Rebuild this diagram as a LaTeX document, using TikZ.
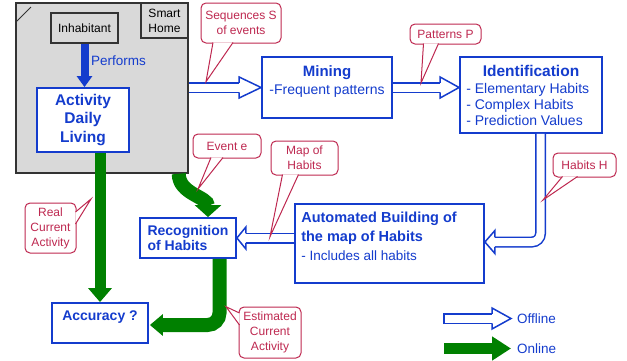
\documentclass[tikz,border=0pt]{standalone}
\usepackage{fontspec}
\setmainfont{Liberation Sans}
\usetikzlibrary{arrows.meta,positioning,calc}
\usepackage{xcolor}
\definecolor{habitblue}{RGB}{20,60,205}
\definecolor{onlinegreen}{RGB}{0,128,0}
\definecolor{notered}{RGB}{190,40,80}
\definecolor{homegray}{RGB}{217,217,217}

\newcommand{\setfs}[2]{\fontsize{#1}{#2}\selectfont}

\tikzset{
  procbox/.style={draw=habitblue, line width=1.8pt, fill=white, text=habitblue, inner sep=0pt},
  graybox/.style={draw=black!80, line width=1.5pt, fill=homegray, inner sep=0pt},
  boxtext/.style={text=habitblue, inner sep=0pt},
  note/.style={draw=notered, line width=1pt, fill=white, rounded corners=5pt, text=notered,
    align=center, inner sep=0pt, font=\setfs{12}{15}},
  noteptr/.style={draw=notered, line width=1pt, fill=white},
  offline/.style={draw=habitblue, line width=1.5pt, double=white, double distance=8pt},
  online/.style={draw=onlinegreen, line width=11pt, -{Triangle[width=23pt,length=14pt]}},
  pics/offtip/.style 2 args={code={
    \fill[white] (0,0) -- (-#1,#2) -- (-#1,-#2) -- cycle;
    \draw[habitblue, line width=1.5pt] (-#1,4.75) -- (-#1,#2) -- (0,0) -- (-#1,-#2) -- (-#1,-4.75);
  }},
}

\begin{document}
\begin{tikzpicture}[x=1pt,y=1pt]
    \useasboundingbox (0,0) rectangle (627,360);

    % Smart home area
    \node[graybox, minimum width=172pt, minimum height=170pt] (home) at (102,272) {};
    \draw[black!80, line width=1pt] (16,338) -- (31,353);
    \node[graybox, minimum width=47pt, minimum height=35pt, align=center, font=\setfs{12}{15},
      anchor=north east] (smart) at (home.north east) {Smart\\Home};
    \node[graybox, minimum width=67pt, minimum height=30pt, font=\setfs{12}{15}] (inhab) at (84.5,332) {Inhabitant};
    \node[procbox, minimum width=92pt, minimum height=64pt, align=center,
      font=\bfseries\setfs{15.5}{18.5}] (adl) at (83,240) {Activity\\Daily\\Living};

    % Inhabitant performs activity
    \draw[habitblue, line width=8pt, -{Triangle[width=15pt,length=11pt]}] (inhab.south) -- (inhab.south |- adl.north);
    \node[boxtext, anchor=west, font=\setfs{13.5}{16}] (perf) at (91,299) {Performs};

    % Offline processing boxes
    \node[procbox, minimum width=130pt, minimum height=61pt] (mining) at (327,272.5) {};
    \node[boxtext, below=9.5pt of mining.north, align=center, font=\setfs{14}{18}] (miningtxt)
      {\textbf{\setfs{15}{18}Mining}\\-Frequent patterns};

    \node[procbox, minimum width=142pt, minimum height=76pt] (ident) at (531,265) {};
    \node[boxtext, below=8.5pt of ident.north, font=\bfseries\setfs{15.5}{18}] (identtitle) {Identification};
    \node[boxtext, anchor=north west, align=left, font=\setfs{14}{16}] (identlist)
      at ($(ident.north west)+(7,-27)$) {- Elementary Habits\\- Complex Habits\\- Prediction Values};

    \node[procbox, minimum width=189pt, minimum height=79pt] (auto) at (389.5,116.5) {};
    \node[boxtext, anchor=north west, align=left, font=\setfs{13.5}{19}] (autotxt)
      at ($(auto.north west)+(7,-9)$)
      {\textbf{\setfs{14.5}{19}Automated Building of}\\\textbf{\setfs{14.5}{19}the map of Habits}\\- Includes all habits};

    % Online boxes
    \node[procbox, minimum width=96pt, minimum height=40pt, align=left,
      font=\bfseries\setfs{14}{15.5}] (recog) at (188,122) {Recognition\\of Habits};
    \node[procbox, minimum width=96pt, minimum height=40pt] (acc) at (100,37) {};
    \node[boxtext, below=8pt of acc.north, font=\bfseries\setfs{14}{16}] (acctxt) {Accuracy ?};

    % Offline arrows
    \draw[offline] (home.east |- mining.west) -- ($(mining.west)+(-22,0)$);
    \pic at (mining.west) {offtip={22}{10.5}};
    \draw[offline] (mining.east) -- ($(ident.west |- mining.east)+(-19,0)$);
    \pic at (ident.west |- mining.east) {offtip={19}{10.5}};
    \coordinate (identout) at ($(ident.south)+(9.5,0)$);
    \draw[offline, rounded corners=8.5pt] (identout) |- ($(auto.east)+(10,1.5)$);
    \pic[rotate=180] at ($(auto.east)+(0,1.5)$) {offtip={10}{11.5}};
    \draw[offline] (auto.west |- recog.east) -- ($(recog.east)+(9,0)$);
    \pic[rotate=180] at (recog.east) {offtip={9}{11}};

    % Online arrows
    \draw[online] (adl.south -| acc.north) -- (acc.north);
    \draw[online, line width=14pt, -{Triangle[width=26pt,length=12pt]}]
      ($(home.south east)+(-10,0)$) to[out=-90,in=90] ($(recog.north)+(20,0)$);
    \draw[online, line width=14pt, rounded corners=12pt, -{Triangle[width=21pt,length=13pt]}]
      ($(recog.south)+(31.5,0)$) |- ($(acc.east)+(1,-2)$);

    % Callouts
    \node[note, minimum width=80pt, minimum height=40pt] (seq) at (241,337) {Sequences S\\of events};
    \coordinate (seqtip) at (206,278.3);
    \draw[noteptr] ($(seq.south)+(-28,1)$) -- (seqtip) -- ($(seq.south)+(-8,1)$);

    \node[note, minimum width=71pt, minimum height=20pt] (pat) at (445.5,326) {Patterns P};
    \coordinate (pattip) at (421,277);
    \draw[noteptr] ($(pat.south)+(-22,1)$) -- (pattip) -- ($(pat.south)+(-7,1)$);

    \node[note, minimum width=63pt, minimum height=24pt] (habh) at (584.5,195) {Habits H};
    \coordinate (habhtip) at (543,160);
    \draw[noteptr] ($(habh.south)+(-22,1)$) -- (habhtip) -- ($(habh.south)+(-7,1)$);

    \node[note, minimum width=67pt, minimum height=34pt] (map) at (304.5,202) {Map of\\Habits};
    \coordinate (maptip) at (270,123.3);
    \draw[noteptr] ($(map.south)+(-22,1)$) -- (maptip) -- ($(map.south)+(-6,1)$);

    \node[note, minimum width=68pt, minimum height=24pt] (evt) at (227,214) {Event e};
    \coordinate (evttip) at (198,171);
    \draw[noteptr] ($(evt.south)+(-16,1)$) -- (evttip) -- ($(evt.south)+(-4,1)$);

    \node[note, minimum width=51pt, minimum height=50pt] (real) at (50.5,132) {Real\\Current\\Activity};
    \coordinate (realtip) at (91,161);
    \draw[noteptr] ($(real.east)+(-1,16)$) -- (realtip) -- ($(real.east)+(-1,4)$);

    \node[note, minimum width=62pt, minimum height=51pt] (est) at (270,27.5) {Estimated\\Current\\Activity};
    \coordinate (esttip) at (226,53.3);
    \draw[noteptr] ($(est.west)+(1,19.5)$) -- (esttip) -- ($(est.west)+(1,7.5)$);

    % Legend
    \coordinate (offa) at (444,41.5);
    \coordinate (offb) at (511,41.5);
    \draw[offline] (offa) -- ($(offb)+(-19,0)$);
    \draw[habitblue, line width=1.5pt] ($(offa)+(0,-5.5)$) -- ($(offa)+(0,5.5)$);
    \pic at (offb) {offtip={19}{10.5}};
    \node[boxtext, right=6pt of offb, font=\setfs{13.5}{16}] (offlbl) {Offline};

    \coordinate (ona) at (444,11.5);
    \coordinate (onb) at (511,11.5);
    \draw[online, -{Triangle[width=23pt,length=19pt]}] (ona) -- (onb);
    \node[boxtext, right=6pt of onb, font=\setfs{13.5}{16}] (onlbl) {Online};
\end{tikzpicture}
\end{document}
